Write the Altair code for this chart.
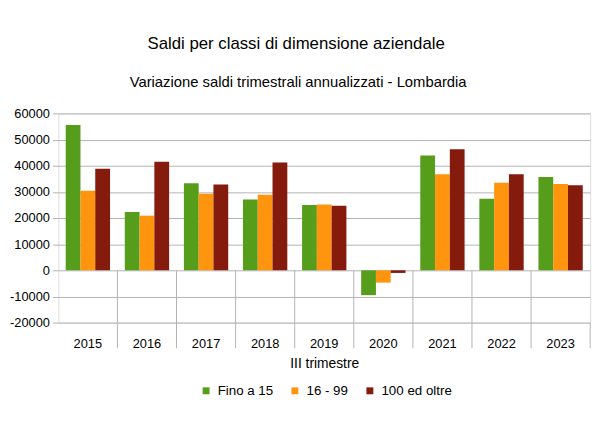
import altair as alt
import pandas as pd

anni = ["2015", "2016", "2017", "2018", "2019", "2020", "2021", "2022", "2023"]
serie = ["Fino a 15", "16 - 99", "100 ed oltre"]
fino_15 = [55600, 22300, 33300, 27100, 25000, -9500, 43900, 27400, 35700]
da_16_a_99 = [30400, 20900, 29300, 28900, 25200, -4700, 36700, 33500, 33000]
oltre_100 = [38800, 41500, 32800, 41200, 24700, -1000, 46300, 36700, 32500]
colori = ["#579d1c", "#ff950e", "#841b0c"]
y_ticks = [-20000, -10000, 0, 10000, 20000, 30000, 40000, 50000, 60000]

W, H = 539, 212
GRID = "#b3b3b3"
FONT = "Liberation Sans"

rows = []
for i, a in enumerate(anni):
    for s, vals in zip(serie, [fino_15, da_16_a_99, oltre_100]):
        rows.append({"anno": a, "serie": s, "valore": vals[i]})
df = pd.DataFrame(rows)

x_enc = alt.X(
    "anno:N",
    sort=anni,
    scale=alt.Scale(paddingInner=0, paddingOuter=0),
    axis=alt.Axis(
        title="III trimestre", labelAngle=0, ticks=False, domain=False, grid=False,
        labelPadding=15, labelFontSize=13, labelFont=FONT, labelColor="#000",
        titleFontSize=14, titleFont=FONT, titleFontWeight="normal", titleColor="#000",
        titlePadding=6,
    ),
)

y_scale = alt.Scale(domain=[-20000, 60000], nice=False, zero=False)
y_axis = alt.Axis(
    title=None, values=y_ticks, labelExpr="'' + datum.value",
    labelOverlap=False,
    tickSize=6, tickColor=GRID, domain=False, gridColor=GRID,
    labelPadding=3, labelFontSize=13, labelFont=FONT, labelColor="#000",
)

bars = alt.Chart(df).mark_bar().encode(
    x=x_enc,
    xOffset=alt.XOffset("serie:N", sort=serie, scale=alt.Scale(domain=serie, paddingInner=0, paddingOuter=0.5)),
    y=alt.Y("valore:Q", scale=y_scale, axis=y_axis),
    color=alt.Color(
        "serie:N", sort=serie,
        scale=alt.Scale(domain=serie, range=colori),
        legend=alt.Legend(
            title=None, orient="none", direction="horizontal", legendX=143, legendY=274,
            symbolType="square", symbolSize=49, symbolStrokeWidth=0,
            labelFontSize=13.5, labelFont=FONT, labelColor="#000", labelOffset=5,
            columnPadding=15, padding=0,
        ),
    ),
)

sep_df = pd.DataFrame({"anno": anni[1:], "valore": [0] * (len(anni) - 1)})
sep = alt.Chart(sep_df).mark_rule(color=GRID, strokeWidth=1).encode(
    x=alt.X("anno:N", sort=anni, bandPosition=0),
    y=alt.Y("valore:Q", scale=y_scale, axis=y_axis),
    y2=alt.value(H + 26),
)

one = pd.DataFrame({"k": [0]})
right_edge = alt.Chart(one).mark_rule(color=GRID, strokeWidth=1).encode(
    x=alt.value(W), y=alt.value(H), y2=alt.value(H + 26)
)

titolo = alt.Chart(one).mark_text(
    text="Saldi per classi di dimensione aziendale", fontSize=17, font=FONT, color="#000"
).encode(x=alt.value(300 - 59), y=alt.value(42 - 112))

sottotitolo = alt.Chart(one).mark_text(
    text="Variazione saldi trimestrali annualizzati - Lombardia", fontSize=15, font=FONT, color="#000"
).encode(x=alt.value(302 - 59), y=alt.value(80 - 112))

chart = alt.layer(bars, sep, right_edge, titolo, sottotitolo).properties(
    width=W, height=H,
    autosize=alt.AutoSizeParams(type="none"),
    padding={"left": 51, "top": 104, "right": 12, "bottom": 107},
).configure_view(stroke=GRID, strokeWidth=1).configure(background="white")

chart.save("out.html", embed_options={"renderer": "svg", "actions": False})
